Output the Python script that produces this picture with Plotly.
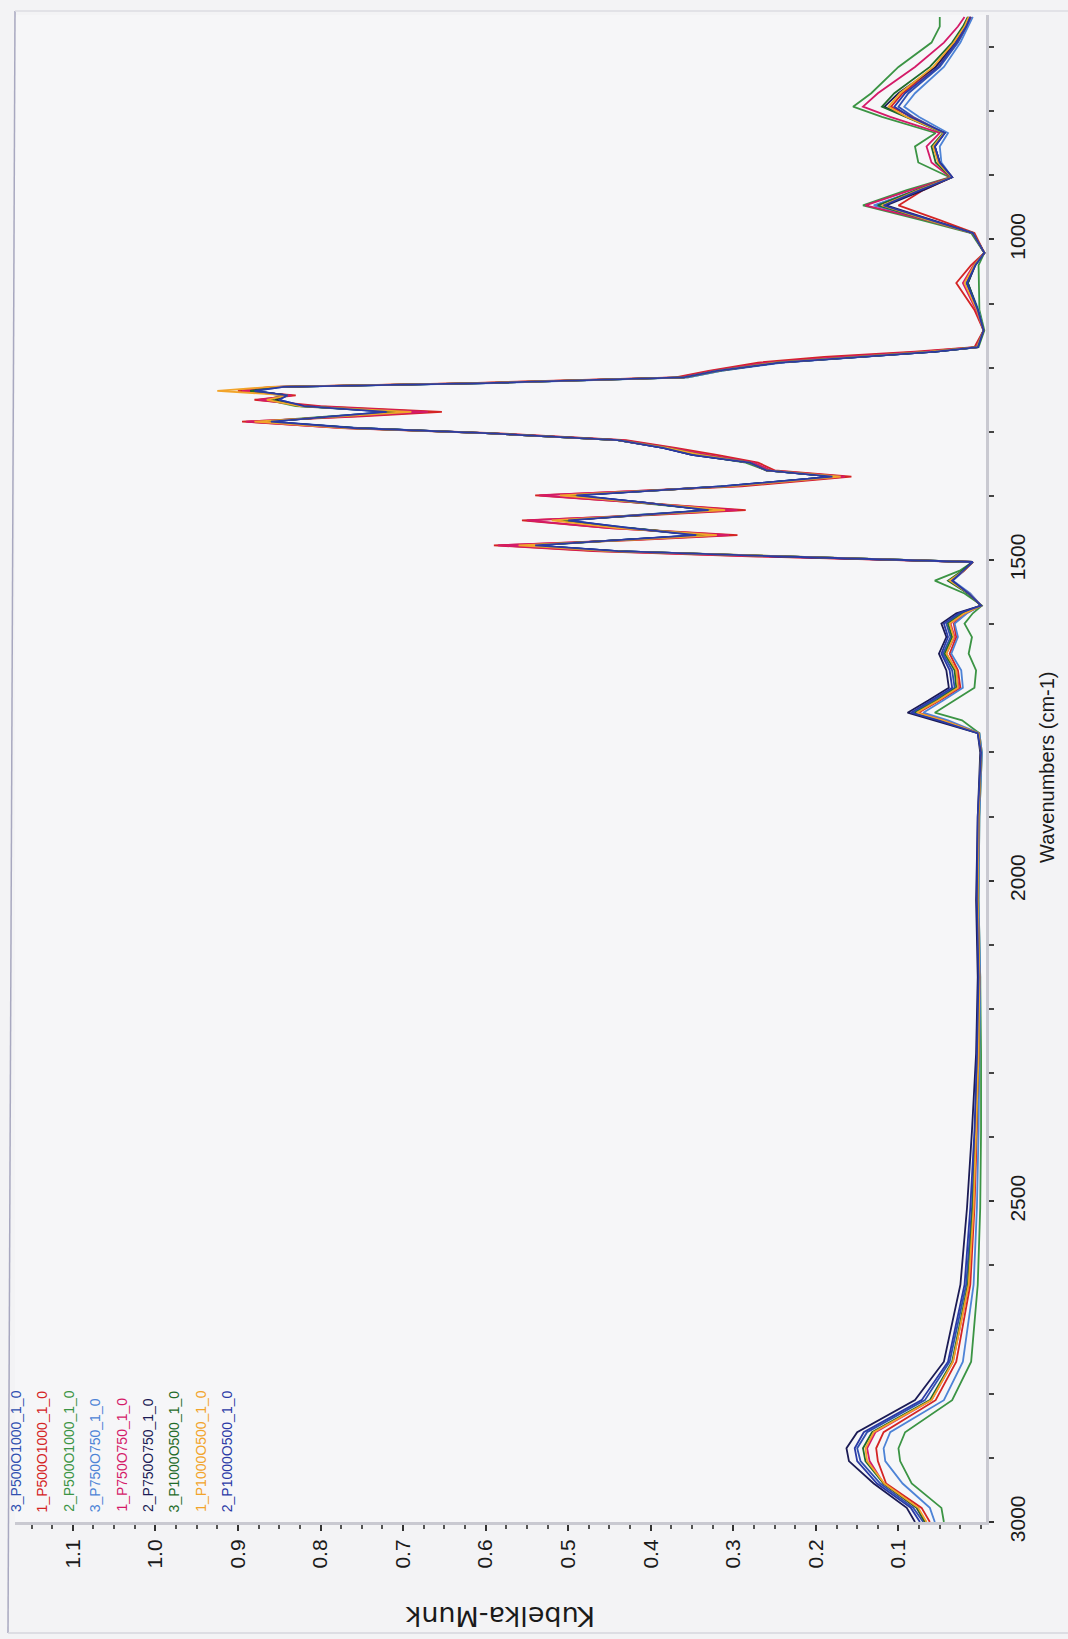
import plotly.graph_objects as go

# ---------------- data ----------------
wavenumbers = [3000, 2978, 2940, 2905, 2885, 2860, 2810, 2750, 2630, 2510, 2390, 2270,
               2150, 2030, 1900, 1800, 1770, 1750, 1738, 1719, 1699, 1672,
               1646, 1620, 1599, 1583, 1571, 1552, 1532, 1516, 1503, 1494,
               1486, 1477, 1469, 1461, 1450, 1438, 1430, 1422, 1410, 1399,
               1385, 1370, 1360, 1348, 1336, 1325, 1313, 1302, 1294, 1284,
               1276, 1269, 1260, 1250, 1243, 1236, 1230, 1224, 1215, 1205,
               1192, 1183, 1175, 1168, 1142, 1110, 1068, 1040, 1021, 990,
               970, 947, 923, 903, 880, 855, 834, 809, 793, 772,
               731, 693, 668, 653]

s_3_P500O1000 = [0.070, 0.082, 0.122, 0.146, 0.150, 0.138, 0.068, 0.038, 0.018, 0.011, 0.007, 0.004,
                 0.003, 0.005, 0.003, 0.000, 0.003, 0.050, 0.082, 0.057, 0.032, 0.035,
                 0.046, 0.037, 0.042, 0.025, 0.000, 0.015, 0.036, 0.021, 0.010, 0.250,
                 0.440, 0.545, 0.440, 0.340, 0.425, 0.505, 0.415, 0.325, 0.410, 0.495,
                 0.315, 0.180, 0.260, 0.280, 0.350, 0.385, 0.440, 0.600, 0.760, 0.865,
                 0.785, 0.715, 0.820, 0.855, 0.840, 0.885, 0.850, 0.600, 0.360, 0.320,
                 0.245, 0.145, 0.055, 0.004, -0.003, 0.004, 0.018, 0.008, -0.004, 0.010,
                 0.062, 0.128, 0.078, 0.036, 0.050, 0.056, 0.044, 0.082, 0.100, 0.088,
                 0.050, 0.028, 0.017, 0.012]

s_1_P500O1000 = [0.062, 0.072, 0.115, 0.125, 0.127, 0.118, 0.055, 0.030, 0.013, 0.008, 0.005, 0.003,
                 0.002, 0.004, 0.003, 0.000, 0.003, 0.046, 0.076, 0.050, 0.025, 0.028,
                 0.038, 0.030, 0.033, 0.018, 0.000, 0.014, 0.036, 0.020, 0.010, 0.280,
                 0.470, 0.590, 0.420, 0.295, 0.450, 0.556, 0.400, 0.285, 0.420, 0.540,
                 0.290, 0.157, 0.250, 0.270, 0.320, 0.370, 0.430, 0.590, 0.770, 0.895,
                 0.750, 0.653, 0.800, 0.880, 0.830, 0.900, 0.860, 0.620, 0.370, 0.330,
                 0.270, 0.190, 0.080, 0.008, -0.003, 0.008, 0.030, 0.012, -0.004, 0.008,
                 0.050, 0.100, 0.070, 0.035, 0.050, 0.058, 0.045, 0.085, 0.109, 0.095,
                 0.055, 0.030, 0.018, 0.012]

s_2_P500O1000 = [0.045, 0.048, 0.084, 0.098, 0.100, 0.092, 0.035, 0.012, 0.004, 0.001, 0.000, 0.000,
                 0.001, 0.003, 0.002, -0.001, 0.002, 0.023, 0.056, 0.032, 0.008, 0.006,
                 0.015, 0.011, 0.020, 0.010, -0.001, 0.020, 0.056, 0.025, 0.010, 0.250,
                 0.450, 0.540, 0.430, 0.335, 0.430, 0.510, 0.420, 0.325, 0.420, 0.500,
                 0.310, 0.175, 0.260, 0.285, 0.345, 0.380, 0.440, 0.600, 0.765, 0.875,
                 0.790, 0.710, 0.830, 0.865, 0.845, 0.890, 0.850, 0.600, 0.355, 0.315,
                 0.245, 0.140, 0.055, 0.003, -0.004, 0.002, 0.003, 0.003, -0.004, 0.012,
                 0.072, 0.143, 0.090, 0.038, 0.076, 0.080, 0.055, 0.120, 0.155, 0.133,
                 0.100, 0.060, 0.050, 0.050]

s_3_P750O750 = [0.056, 0.062, 0.095, 0.116, 0.118, 0.110, 0.045, 0.022, 0.009, 0.005, 0.003, 0.002,
                0.001, 0.003, 0.002, -0.001, 0.002, 0.040, 0.070, 0.046, 0.022, 0.024,
                0.036, 0.028, 0.032, 0.017, 0.000, 0.013, 0.034, 0.020, 0.010, 0.250,
                0.440, 0.540, 0.440, 0.345, 0.430, 0.500, 0.420, 0.330, 0.410, 0.490,
                0.315, 0.180, 0.260, 0.280, 0.345, 0.385, 0.440, 0.600, 0.755, 0.860,
                0.785, 0.720, 0.820, 0.850, 0.840, 0.880, 0.845, 0.590, 0.355, 0.315,
                0.240, 0.140, 0.055, 0.004, -0.003, 0.003, 0.016, 0.007, -0.004, 0.010,
                0.062, 0.130, 0.075, 0.035, 0.048, 0.050, 0.040, 0.075, 0.093, 0.080,
                0.045, 0.025, 0.015, 0.010]

s_1_P750O750 = [0.068, 0.078, 0.118, 0.135, 0.138, 0.128, 0.060, 0.034, 0.015, 0.009, 0.006, 0.003,
                0.002, 0.004, 0.003, 0.000, 0.003, 0.046, 0.078, 0.052, 0.027, 0.030,
                0.042, 0.032, 0.037, 0.020, 0.000, 0.015, 0.037, 0.020, 0.010, 0.270,
                0.460, 0.585, 0.430, 0.305, 0.450, 0.550, 0.410, 0.295, 0.420, 0.535,
                0.300, 0.165, 0.255, 0.275, 0.330, 0.375, 0.435, 0.600, 0.775, 0.890,
                0.760, 0.670, 0.810, 0.875, 0.835, 0.895, 0.855, 0.610, 0.365, 0.325,
                0.260, 0.170, 0.070, 0.006, -0.003, 0.006, 0.022, 0.009, -0.004, 0.010,
                0.066, 0.140, 0.085, 0.037, 0.060, 0.066, 0.050, 0.110, 0.143, 0.125,
                0.080, 0.045, 0.028, 0.020]

s_2_P750O750 = [0.080, 0.090, 0.130, 0.160, 0.163, 0.150, 0.080, 0.045, 0.025, 0.017, 0.011, 0.006,
                0.004, 0.006, 0.004, 0.001, 0.004, 0.056, 0.089, 0.064, 0.039, 0.042,
                0.051, 0.042, 0.048, 0.030, 0.000, 0.016, 0.035, 0.022, 0.011, 0.250,
                0.440, 0.545, 0.440, 0.340, 0.430, 0.505, 0.410, 0.330, 0.410, 0.495,
                0.310, 0.180, 0.260, 0.280, 0.350, 0.385, 0.440, 0.600, 0.760, 0.865,
                0.780, 0.710, 0.820, 0.855, 0.840, 0.885, 0.850, 0.600, 0.360, 0.320,
                0.245, 0.145, 0.055, 0.004, -0.003, 0.004, 0.016, 0.007, -0.004, 0.010,
                0.058, 0.115, 0.070, 0.035, 0.050, 0.056, 0.044, 0.090, 0.117, 0.100,
                0.055, 0.032, 0.020, 0.014]

s_3_P1000O500 = [0.068, 0.078, 0.118, 0.140, 0.143, 0.132, 0.062, 0.035, 0.016, 0.010, 0.006, 0.003,
                 0.002, 0.004, 0.003, 0.000, 0.003, 0.048, 0.080, 0.054, 0.030, 0.032,
                 0.044, 0.035, 0.040, 0.022, 0.000, 0.016, 0.040, 0.022, 0.010, 0.250,
                 0.445, 0.550, 0.435, 0.330, 0.430, 0.510, 0.410, 0.320, 0.415, 0.500,
                 0.310, 0.175, 0.260, 0.280, 0.340, 0.380, 0.440, 0.600, 0.760, 0.870,
                 0.780, 0.700, 0.825, 0.860, 0.840, 0.885, 0.850, 0.600, 0.360, 0.320,
                 0.250, 0.150, 0.060, 0.005, -0.003, 0.004, 0.016, 0.008, -0.004, 0.010,
                 0.062, 0.125, 0.078, 0.036, 0.055, 0.060, 0.046, 0.092, 0.120, 0.105,
                 0.062, 0.035, 0.022, 0.016]

s_1_P1000O500 = [0.066, 0.076, 0.117, 0.138, 0.140, 0.130, 0.060, 0.034, 0.015, 0.009, 0.006, 0.003,
                 0.002, 0.004, 0.003, 0.000, 0.003, 0.046, 0.078, 0.052, 0.028, 0.030,
                 0.042, 0.033, 0.038, 0.020, 0.000, 0.015, 0.038, 0.020, 0.010, 0.260,
                 0.450, 0.560, 0.430, 0.320, 0.440, 0.520, 0.410, 0.310, 0.415, 0.510,
                 0.305, 0.170, 0.260, 0.280, 0.340, 0.380, 0.440, 0.600, 0.770, 0.880,
                 0.775, 0.690, 0.825, 0.865, 0.840, 0.925, 0.860, 0.610, 0.360, 0.320,
                 0.250, 0.155, 0.062, 0.005, -0.003, 0.005, 0.020, 0.008, -0.004, 0.010,
                 0.064, 0.120, 0.076, 0.036, 0.052, 0.058, 0.045, 0.090, 0.112, 0.098,
                 0.058, 0.033, 0.020, 0.015]

s_2_P1000O500 = [0.074, 0.085, 0.126, 0.150, 0.153, 0.142, 0.072, 0.040, 0.020, 0.013, 0.008, 0.005,
                 0.003, 0.005, 0.004, 0.000, 0.004, 0.052, 0.085, 0.060, 0.035, 0.038,
                 0.048, 0.040, 0.045, 0.027, 0.000, 0.015, 0.035, 0.021, 0.010, 0.250,
                 0.440, 0.540, 0.440, 0.345, 0.425, 0.500, 0.415, 0.330, 0.410, 0.490,
                 0.315, 0.180, 0.260, 0.280, 0.350, 0.385, 0.440, 0.600, 0.760, 0.860,
                 0.785, 0.720, 0.820, 0.850, 0.840, 0.880, 0.845, 0.600, 0.360, 0.320,
                 0.245, 0.145, 0.055, 0.004, -0.003, 0.004, 0.017, 0.007, -0.004, 0.010,
                 0.060, 0.118, 0.074, 0.035, 0.050, 0.056, 0.044, 0.085, 0.105, 0.092,
                 0.052, 0.030, 0.018, 0.013]

series_names = ["3_P500O1000_1_0", "1_P500O1000_1_0", "2_P500O1000_1_0",
                "3_P750O750_1_0", "1_P750O750_1_0", "2_P750O750_1_0",
                "3_P1000O500_1_0", "1_P1000O500_1_0", "2_P1000O500_1_0"]
series_values = [s_3_P500O1000, s_1_P500O1000, s_2_P500O1000,
                 s_3_P750O750, s_1_P750O750, s_2_P750O750,
                 s_3_P1000O500, s_1_P1000O500, s_2_P1000O500]
series_colors = ["#2f4fb0", "#d42424", "#3b9444", "#4d83d6", "#d41a68",
                 "#1b1b55", "#1f6b2a", "#f2a42a", "#2a3aa6"]

km_ticks = [0.1, 0.2, 0.3, 0.4, 0.5, 0.6, 0.7, 0.8, 0.9, 1.0, 1.1]
wn_ticks = [1000, 1500, 2000, 2500, 3000]

# ---------------- layout geometry (pixels) ----------------
W, H = 1068, 1639
L, R, T, B = 15, 986, 15, 1522
PW, PH = R - L, B - T


def px(x):
    return (x - L) / PW


def py(y):
    return (B - y) / PH


FONT = "Liberation Sans, Arial, Helvetica, sans-serif"

fig = go.Figure()
for name, vals, col in zip(series_names, series_values, series_colors):
    fig.add_trace(go.Scatter(x=vals, y=wavenumbers, mode="lines", name=name,
                             line=dict(color=col, width=1.8), showlegend=False))

fig.update_layout(
    width=W, height=H,
    margin=dict(l=L, r=W - R, t=T, b=H - B, pad=0),
    paper_bgcolor="#f3f3f5", plot_bgcolor="#f6f6f8",
    font=dict(family=FONT, color="#1a1a1a"),
    showlegend=False,
)

fig.update_xaxes(
    range=[1.17, -0.006], tickvals=km_ticks, tickformat=".1f", tickangle=-90,
    ticks="outside", ticklen=6, tickwidth=2, tickcolor="#333333",
    minor=dict(tick0=0, dtick=0.025, ticks="outside", ticklen=4, tickwidth=2, tickcolor="#555555"),
    showline=True, linecolor="#c9c9d1", linewidth=3, showgrid=False, zeroline=False,
    tickfont=dict(size=21, family=FONT, color="#1a1a1a"),
)
fig.update_yaxes(
    range=[3000, 650], side="right", tickvals=wn_ticks, tickangle=-90,
    ticks="outside", ticklen=5, tickwidth=2, tickcolor="#333333",
    minor=dict(tick0=0, dtick=100, ticks="outside", ticklen=5, tickwidth=2, tickcolor="#444444"),
    showline=True, linecolor="#c9c9d1", linewidth=3, showgrid=False, zeroline=False,
    tickfont=dict(size=21, family=FONT, color="#1a1a1a"), ticklabelstandoff=6,
)

# axis titles (rotated like the photographed page)
fig.add_annotation(text="Kubelka-Munk", xref="paper", yref="paper",
                   x=px(500), y=py(1617), textangle=180, showarrow=False,
                   xanchor="center", yanchor="middle",
                   font=dict(size=27, family="DejaVu Sans, Liberation Sans, sans-serif",
                             color="#1a1a1a"))
fig.add_annotation(text="Wavenumbers (cm-1)", xref="paper", yref="paper",
                   x=px(1047), y=py(767), textangle=-90, showarrow=False,
                   xanchor="center", yanchor="middle",
                   font=dict(size=20, family=FONT, color="#1a1a1a"))

# legend as coloured rotated text columns
for i, (name, col) in enumerate(zip(series_names, series_colors)):
    fig.add_annotation(text=name, xref="paper", yref="paper",
                       x=px(16 + i * 26.4), y=py(1514), textangle=-90, showarrow=False,
                       xanchor="center", yanchor="bottom",
                       font=dict(size=14, family=FONT, color=col))

# page frame of the photograph
fig.add_shape(type="line", xref="paper", yref="paper", x0=px(15), y0=py(11), x1=px(8), y1=py(1633),
              line=dict(color="#a8a8c0", width=1.5))
fig.add_shape(type="line", xref="paper", yref="paper", x0=px(15), y0=py(11), x1=px(1068), y1=py(11),
              line=dict(color="#dcdce2", width=1.5))
fig.add_shape(type="line", xref="paper", yref="paper", x0=px(8), y0=py(1633), x1=px(1068), y1=py(1633),
              line=dict(color="#d6d6dc", width=1.5))

fig.write_html("out.html", config={"displayModeBar": False})
